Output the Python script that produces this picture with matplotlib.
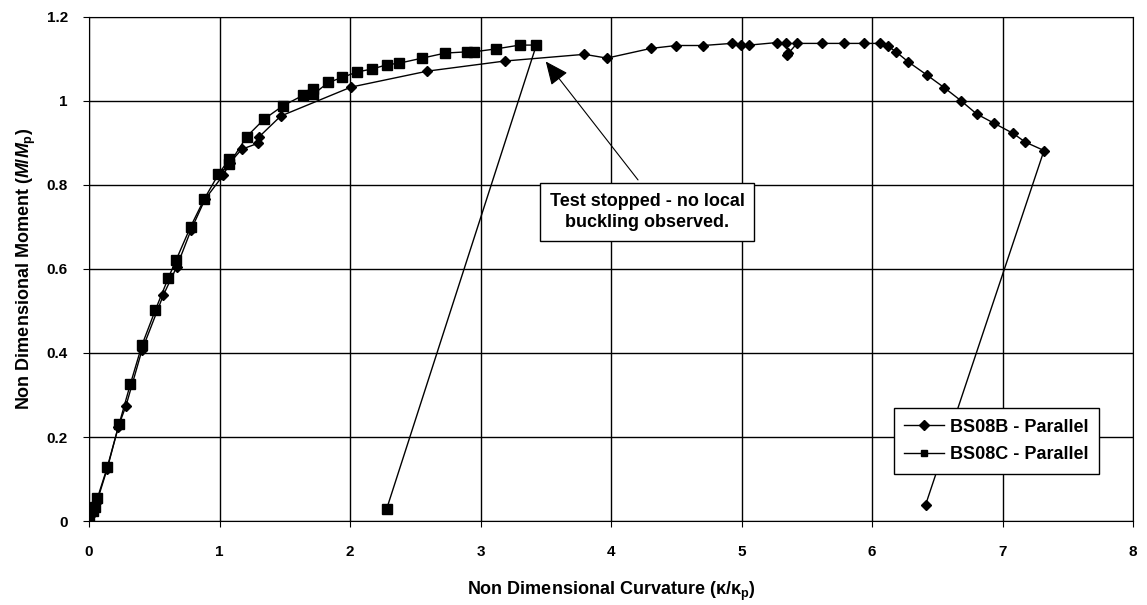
import matplotlib
matplotlib.use('Agg')
import matplotlib.pyplot as plt

plt.rcParams['font.family'] = 'Liberation Sans'
plt.rcParams['font.weight'] = 'bold'
plt.rcParams['axes.labelweight'] = 'bold'
plt.rcParams['mathtext.fontset'] = 'custom'
plt.rcParams['mathtext.rm'] = 'Liberation Sans:bold'
plt.rcParams['mathtext.it'] = 'Liberation Sans:bold:italic'
plt.rcParams['mathtext.bf'] = 'Liberation Sans:bold'

# BS08B - Parallel (diamonds)
bs08b_x = [0, 0.03, 0.06, 0.14, 0.225, 0.284, 0.406, 0.57, 0.672, 0.782, 0.889, 1.03, 1.08,
           1.17, 1.293, 1.305, 1.469, 2.008, 2.593, 3.185, 3.796, 3.969, 4.304, 4.5, 4.705,
           4.925, 4.994, 5.06, 5.27, 5.34, 5.36, 5.35, 5.425, 5.614, 5.785, 5.939, 6.061,
           6.125, 6.184, 6.278, 6.424, 6.552, 6.68, 6.802, 6.935, 7.08, 7.175, 7.318, 6.41]
bs08b_y = [0.003, 0.02, 0.045, 0.125, 0.225, 0.275, 0.407, 0.538, 0.605, 0.693, 0.766, 0.824, 0.853,
           0.885, 0.899, 0.915, 0.964, 1.033, 1.071, 1.095, 1.111, 1.102, 1.125, 1.132, 1.132,
           1.137, 1.134, 1.133, 1.139, 1.137, 1.113, 1.110, 1.137, 1.137, 1.137, 1.137, 1.137,
           1.130, 1.117, 1.093, 1.061, 1.032, 1.001, 0.969, 0.947, 0.923, 0.902, 0.882, 0.038]

# BS08C - Parallel (squares)
bs08c_x = [0, 0.033, 0.046, 0.064, 0.14, 0.23, 0.317, 0.406, 0.508, 0.608, 0.667, 0.779, 0.884,
           0.991, 1.075, 1.075, 1.208, 1.343, 1.484, 1.637, 1.714, 1.719, 1.834, 1.941, 2.054,
           2.169, 2.281, 2.378, 2.554, 2.73, 2.9, 2.95, 3.121, 3.30, 3.428, 2.281]
bs08c_y = [0.004, 0.025, 0.034, 0.054, 0.128, 0.23, 0.326, 0.419, 0.502, 0.579, 0.621, 0.701, 0.767,
           0.825, 0.862, 0.85, 0.915, 0.957, 0.988, 1.013, 1.028, 1.016, 1.044, 1.056, 1.069,
           1.076, 1.086, 1.09, 1.102, 1.114, 1.117, 1.117, 1.124, 1.133, 1.133, 0.029]

x_ticks = [0, 1, 2, 3, 4, 5, 6, 7, 8]
y_ticks = [0, 0.2, 0.4, 0.6, 0.8, 1.0, 1.2]
x_ticklabels = ['0', '1', '2', '3', '4', '5', '6', '7', '8']
y_ticklabels = ['0', '0.2', '0.4', '0.6', '0.8', '1', '1.2']

note_text = 'Test stopped - no local\nbuckling observed.'
note_pos = (4.276, 0.736)
arrow_tip = (3.5, 1.094)
arrow_start = (4.207, 0.812)

fig = plt.figure(figsize=(11.47, 6.05), dpi=100)
ax = fig.add_axes([0.0776, 0.1388, 0.9102, 0.8332])

ax.plot(bs08b_x, bs08b_y, color='black', lw=1, marker='D', ms=5.5, label='BS08B - Parallel', zorder=3)
ax.plot(bs08c_x, bs08c_y, color='black', lw=1, marker='s', ms=6.5, label='BS08C - Parallel', zorder=3)

ax.set_xlim(0, 8)
ax.set_ylim(0, 1.2)
ax.set_xticks(x_ticks, labels=x_ticklabels, fontweight='bold', fontsize=11)
ax.set_yticks(y_ticks, labels=y_ticklabels, fontweight='bold', fontsize=11)
ax.tick_params(direction='out', length=4.3, color='black')
ax.tick_params(axis='x', pad=13)
ax.tick_params(axis='y', pad=11)
ax.grid(True, color='black', lw=1)
ax.set_axisbelow(True)
for s in ax.spines.values():
    s.set_color('black')

ax.set_xlabel(r'Non Dimensional Curvature ($\mathrm{κ/κ}_{\mathrm{p}}$)', fontsize=13,
              fontweight='bold', labelpad=15)
ax.set_ylabel(r'Non Dimensional Moment ($M/M_{\mathrm{p}}$)', fontsize=13,
              fontweight='bold', labelpad=6)

# arrow first, then the boxed note on top of it
ax.annotate('', xy=arrow_tip, xytext=arrow_start, zorder=4,
            arrowprops=dict(arrowstyle='-|>,head_length=0.9,head_width=0.4', mutation_scale=16,
                            color='black', lw=0.8, shrinkA=0, shrinkB=0))
ax.text(note_pos[0], note_pos[1], note_text, ha='center', va='center', fontsize=13,
        fontweight='bold', zorder=5, linespacing=1.3,
        bbox=dict(boxstyle='square,pad=0.55', fc='white', ec='black', lw=1))

leg = ax.legend(loc='lower left', bbox_to_anchor=(0.762, 0.075), numpoints=1,
                prop={'weight': 'bold', 'size': 13},
                fancybox=False, edgecolor='black', framealpha=1, handlelength=2.2,
                borderpad=0.6, labelspacing=0.6, handletextpad=0.3)
leg.get_frame().set_linewidth(1)
for h in leg.legend_handles:
    h.set_markersize(5)

fig.savefig('out.png', dpi=100)
